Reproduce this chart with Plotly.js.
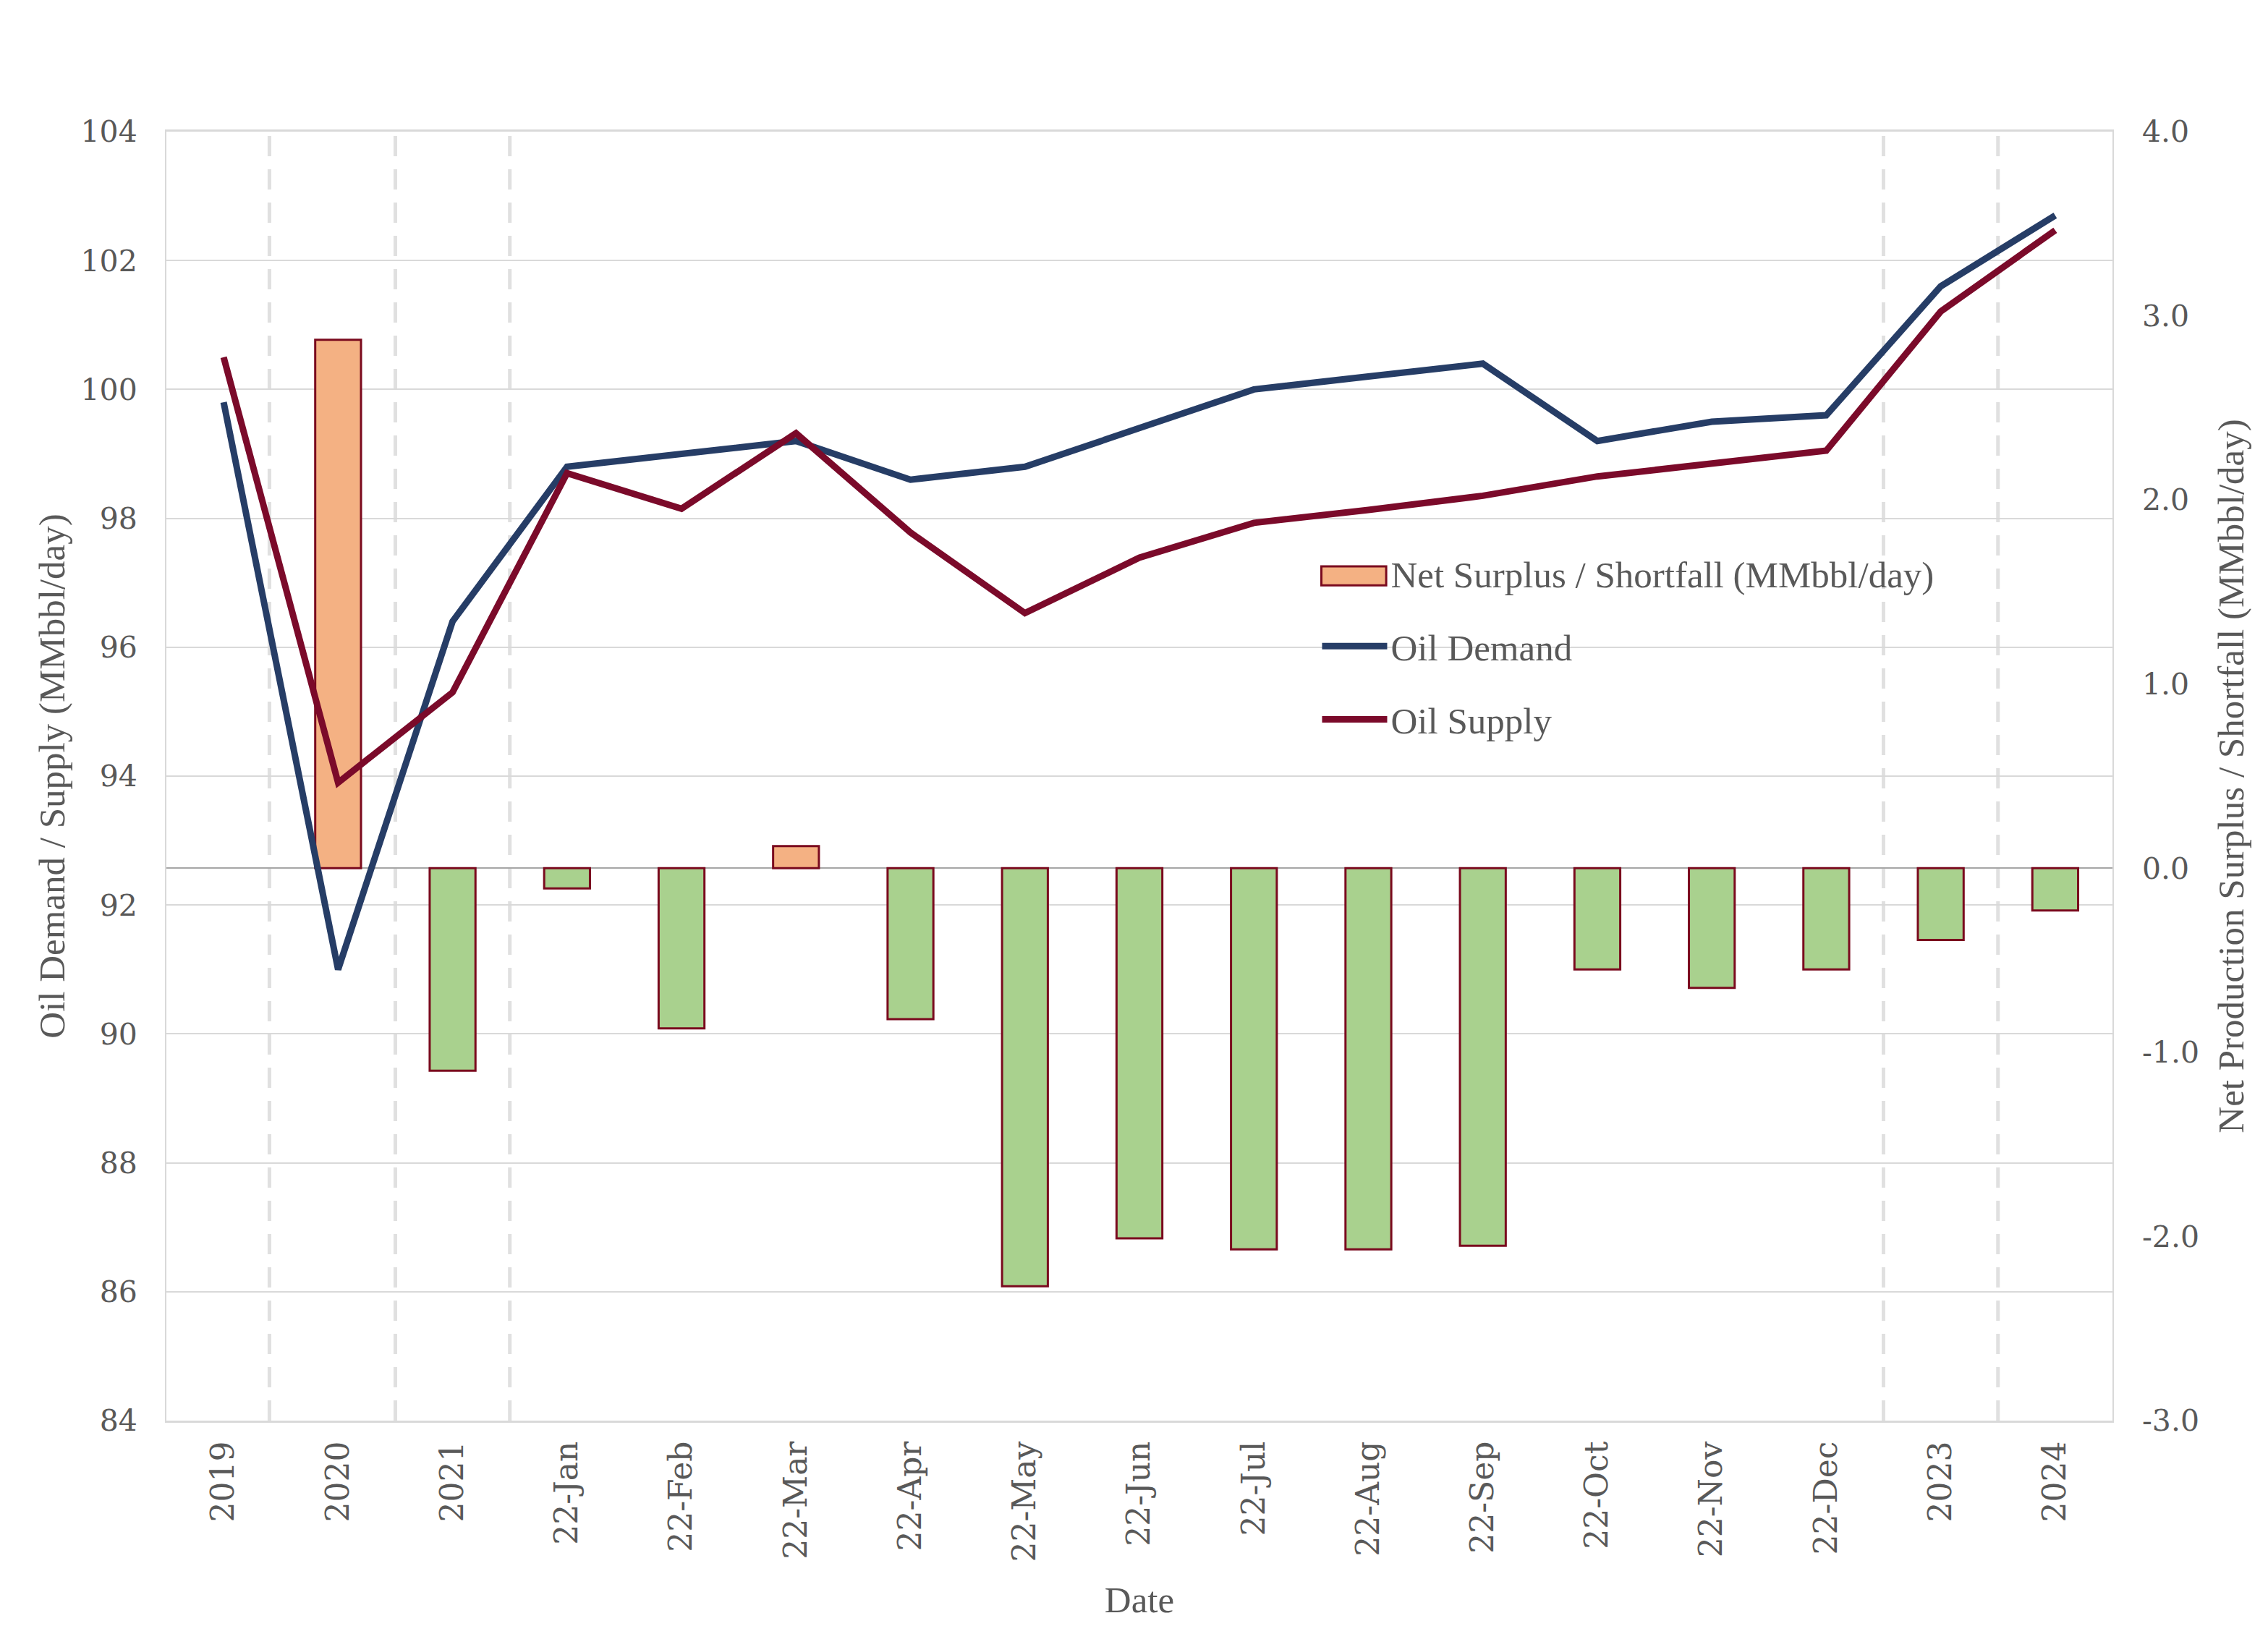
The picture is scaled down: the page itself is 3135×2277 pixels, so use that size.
<!DOCTYPE html>
<html>
<head>
<meta charset="utf-8">
<script src="https://cdn.plot.ly/plotly-3.0.1.min.js"></script>
<style>html,body{margin:0;padding:0;background:#fff;}#chart{width:3135px;height:2277px;}</style>
</head>
<body>
<div id="chart"></div>
<script>
const categories = ['2019','2020','2021','22-Jan','22-Feb','22-Mar','22-Apr','22-May','22-Jun','22-Jul','22-Aug','22-Sep','22-Oct','22-Nov','22-Dec','2023','2024'];
const oilDemand = [99.8, 91.0, 96.4, 98.8, 99.0, 99.2, 98.6, 98.8, 99.4, 100.0, 100.2, 100.4, 99.2, 99.5, 99.6, 101.6, 102.7];
const oilSupply = [100.5, 93.9, 95.3, 98.7, 98.15, 99.32, 97.78, 96.53, 97.39, 97.93, 98.13, 98.35, 98.65, 98.85, 99.05, 101.21, 102.47];
const netSurplus = [null, 2.87, -1.10, -0.11, -0.87, 0.12, -0.82, -2.27, -2.01, -2.07, -2.07, -2.05, -0.55, -0.65, -0.55, -0.39, -0.23];
const leftTicks = [84, 86, 88, 90, 92, 94, 96, 98, 100, 102, 104];
const rightTicks = [-3, -2, -1, 0, 1, 2, 3, 4];
const rightTickText = ['-3.0', '-2.0', '-1.0', '0.0', '1.0', '2.0', '3.0', '4.0'];
const dividerPositions = [0.4, 1.5, 2.5, 14.5, 15.5];

const POS = '#F4B183', NEG = '#A9D18E', EDGE = '#7A0A1E', NONE = 'rgba(0,0,0,0)';
// first point has no bar; make it transparent so the legend uses the custom swatch below
const barColors = netSurplus.map(v => v === null ? NONE : (v >= 0 ? POS : NEG));
const barEdges = netSurplus.map(v => v === null ? NONE : EDGE);
const barName = 'Net Surplus / Shortfall (MMbbl/day)';

const tickFont = {family: 'DejaVu Serif, Georgia, serif', size: 41, color: '#595959'};
const xTickFont = {family: 'DejaVu Serif, Georgia, serif', size: 44, color: '#595959'};
const titleFont = {family: 'Liberation Serif, Times New Roman, serif', size: 51, color: '#595959'};

const traces = [
  {type: 'bar', name: barName, x: categories, y: netSurplus,
   yaxis: 'y', width: 0.4, legendgroup: 'a',
   marker: {color: barColors, line: {color: barEdges, width: 3}}},
  {type: 'scatter', mode: 'lines', name: 'Oil Demand', x: categories, y: oilDemand,
   yaxis: 'y2', legendgroup: 'b', line: {color: '#263D66', width: 9}},
  {type: 'scatter', mode: 'lines', name: 'Oil Supply', x: categories, y: oilSupply,
   yaxis: 'y2', legendgroup: 'c', line: {color: '#7B0A2A', width: 9}}
];

const shapes = dividerPositions.map(p => ({
  type: 'line', xref: 'x', yref: 'paper', x0: p, x1: p, y0: 0, y1: 1, layer: 'below',
  line: {color: '#E0E0E0', width: 5, dash: '28px,18px'}
}));
// legend swatch for the bar series (wide rectangle as in the original legend)
shapes.push({type: 'rect', xref: 'paper', yref: 'paper', x0: 0.5935, x1: 0.6268, y0: 0.6480, y1: 0.6628,
  layer: 'above', fillcolor: POS, line: {color: EDGE, width: 3}});

const layout = {
  width: 3135, height: 2277,
  paper_bgcolor: '#ffffff', plot_bgcolor: '#ffffff',
  margin: {l: 230, r: 215, t: 182, b: 313},
  showlegend: true,
  legend: {x: 0.592, y: 0.68, xanchor: 'left', yanchor: 'top', bgcolor: 'rgba(0,0,0,0)',
           font: titleFont, tracegroupgap: 32, traceorder: 'grouped', itemwidth: 90},
  xaxis: {type: 'category', range: [-0.5, 16.5], tickangle: -90, tickfont: xTickFont,
          showgrid: false, showline: true, mirror: true, linecolor: '#D9D9D9', linewidth: 3,
          ticks: '', ticklabelstandoff: 8, title: {text: 'Date', font: titleFont, standoff: 35}},
  yaxis: {side: 'right', range: [-3, 4], tickvals: rightTicks, ticktext: rightTickText,
          tickfont: tickFont, showgrid: false, zeroline: true, zerolinecolor: '#A6A6A6',
          zerolinewidth: 2, showline: false, ticks: '', ticklabelstandoff: 40,
          title: {text: 'Net Production Surplus / Shortfall (MMbbl/day)', font: titleFont, standoff: 26}},
  yaxis2: {overlaying: 'y', side: 'left', range: [84, 104], tickvals: leftTicks,
           tickfont: tickFont, showgrid: true, gridcolor: '#D9D9D9', gridwidth: 2,
           zeroline: false, showline: true, mirror: true, linecolor: '#D9D9D9', linewidth: 2,
           ticks: '', ticklabelstandoff: 30,
           title: {text: 'Oil Demand / Supply (MMbbl/day)', font: titleFont, standoff: 6}},
  shapes: shapes
};

Plotly.newPlot('chart', traces, layout, {displayModeBar: false, staticPlot: true});
</script>
</body>
</html>
